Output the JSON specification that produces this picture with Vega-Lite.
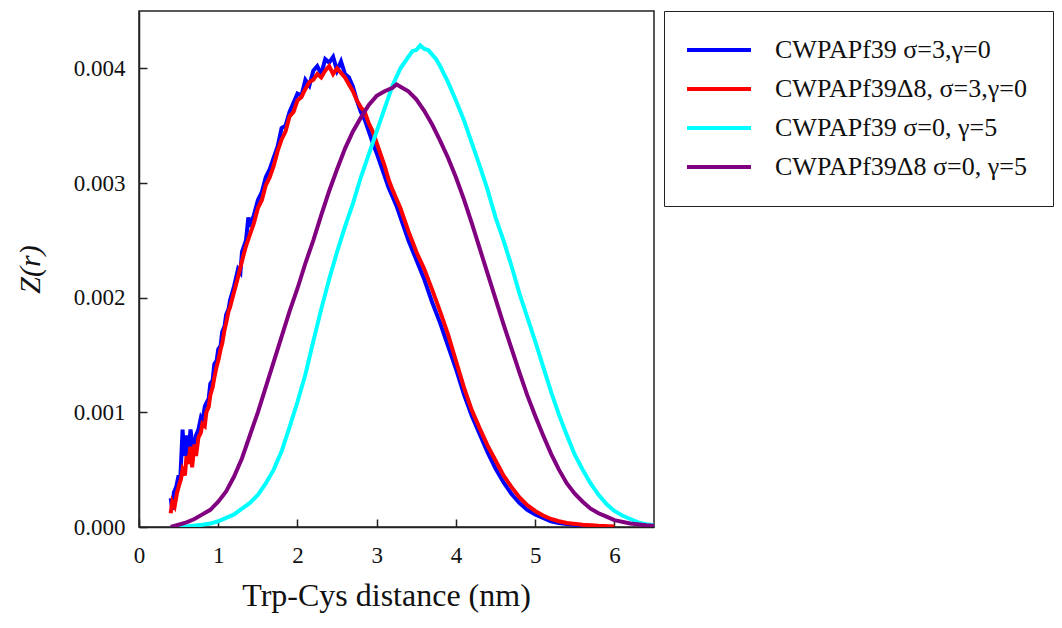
{
  "$schema": "https://vega.github.io/schema/vega-lite/v6.json",
  "autosize": "none",
  "padding": {"left": 139, "top": 11, "right": 408, "bottom": 101},
  "width": 515,
  "height": 516,
  "datasets": {
    "curves": [
      {"s": "CWPAPf39 σ=3,γ=0", "x": 0.40, "y": 0.00025},
      {"s": "CWPAPf39 σ=3,γ=0", "x": 0.42, "y": 0.00015},
      {"s": "CWPAPf39 σ=3,γ=0", "x": 0.44, "y": 0.00030},
      {"s": "CWPAPf39 σ=3,γ=0", "x": 0.47, "y": 0.00035},
      {"s": "CWPAPf39 σ=3,γ=0", "x": 0.50, "y": 0.00045},
      {"s": "CWPAPf39 σ=3,γ=0", "x": 0.52, "y": 0.00040},
      {"s": "CWPAPf39 σ=3,γ=0", "x": 0.55, "y": 0.00085},
      {"s": "CWPAPf39 σ=3,γ=0", "x": 0.57, "y": 0.00062},
      {"s": "CWPAPf39 σ=3,γ=0", "x": 0.60, "y": 0.00080},
      {"s": "CWPAPf39 σ=3,γ=0", "x": 0.62, "y": 0.00060},
      {"s": "CWPAPf39 σ=3,γ=0", "x": 0.65, "y": 0.00085},
      {"s": "CWPAPf39 σ=3,γ=0", "x": 0.68, "y": 0.00070},
      {"s": "CWPAPf39 σ=3,γ=0", "x": 0.70, "y": 0.00068},
      {"s": "CWPAPf39 σ=3,γ=0", "x": 0.72, "y": 0.00080},
      {"s": "CWPAPf39 σ=3,γ=0", "x": 0.75, "y": 0.00085},
      {"s": "CWPAPf39 σ=3,γ=0", "x": 0.78, "y": 0.00095},
      {"s": "CWPAPf39 σ=3,γ=0", "x": 0.80, "y": 0.00092},
      {"s": "CWPAPf39 σ=3,γ=0", "x": 0.83, "y": 0.00105},
      {"s": "CWPAPf39 σ=3,γ=0", "x": 0.85, "y": 0.00108},
      {"s": "CWPAPf39 σ=3,γ=0", "x": 0.88, "y": 0.00112},
      {"s": "CWPAPf39 σ=3,γ=0", "x": 0.90, "y": 0.00125},
      {"s": "CWPAPf39 σ=3,γ=0", "x": 0.93, "y": 0.00128},
      {"s": "CWPAPf39 σ=3,γ=0", "x": 0.95, "y": 0.00142},
      {"s": "CWPAPf39 σ=3,γ=0", "x": 0.98, "y": 0.00145},
      {"s": "CWPAPf39 σ=3,γ=0", "x": 1.00, "y": 0.00155},
      {"s": "CWPAPf39 σ=3,γ=0", "x": 1.03, "y": 0.00158},
      {"s": "CWPAPf39 σ=3,γ=0", "x": 1.05, "y": 0.00170},
      {"s": "CWPAPf39 σ=3,γ=0", "x": 1.08, "y": 0.00175},
      {"s": "CWPAPf39 σ=3,γ=0", "x": 1.10, "y": 0.00185},
      {"s": "CWPAPf39 σ=3,γ=0", "x": 1.13, "y": 0.00190},
      {"s": "CWPAPf39 σ=3,γ=0", "x": 1.15, "y": 0.00198},
      {"s": "CWPAPf39 σ=3,γ=0", "x": 1.18, "y": 0.00205},
      {"s": "CWPAPf39 σ=3,γ=0", "x": 1.20, "y": 0.00210},
      {"s": "CWPAPf39 σ=3,γ=0", "x": 1.25, "y": 0.00225},
      {"s": "CWPAPf39 σ=3,γ=0", "x": 1.28, "y": 0.00222},
      {"s": "CWPAPf39 σ=3,γ=0", "x": 1.30, "y": 0.00240},
      {"s": "CWPAPf39 σ=3,γ=0", "x": 1.35, "y": 0.00250},
      {"s": "CWPAPf39 σ=3,γ=0", "x": 1.38, "y": 0.00270},
      {"s": "CWPAPf39 σ=3,γ=0", "x": 1.40, "y": 0.00262},
      {"s": "CWPAPf39 σ=3,γ=0", "x": 1.45, "y": 0.00272},
      {"s": "CWPAPf39 σ=3,γ=0", "x": 1.50, "y": 0.00285},
      {"s": "CWPAPf39 σ=3,γ=0", "x": 1.55, "y": 0.00292},
      {"s": "CWPAPf39 σ=3,γ=0", "x": 1.60, "y": 0.00305},
      {"s": "CWPAPf39 σ=3,γ=0", "x": 1.65, "y": 0.00312},
      {"s": "CWPAPf39 σ=3,γ=0", "x": 1.70, "y": 0.00322},
      {"s": "CWPAPf39 σ=3,γ=0", "x": 1.75, "y": 0.00332},
      {"s": "CWPAPf39 σ=3,γ=0", "x": 1.80, "y": 0.00348},
      {"s": "CWPAPf39 σ=3,γ=0", "x": 1.85, "y": 0.00350},
      {"s": "CWPAPf39 σ=3,γ=0", "x": 1.90, "y": 0.00362},
      {"s": "CWPAPf39 σ=3,γ=0", "x": 1.95, "y": 0.00370},
      {"s": "CWPAPf39 σ=3,γ=0", "x": 2.00, "y": 0.00378},
      {"s": "CWPAPf39 σ=3,γ=0", "x": 2.05, "y": 0.00376},
      {"s": "CWPAPf39 σ=3,γ=0", "x": 2.10, "y": 0.00390},
      {"s": "CWPAPf39 σ=3,γ=0", "x": 2.15, "y": 0.00385},
      {"s": "CWPAPf39 σ=3,γ=0", "x": 2.20, "y": 0.00398},
      {"s": "CWPAPf39 σ=3,γ=0", "x": 2.25, "y": 0.00402},
      {"s": "CWPAPf39 σ=3,γ=0", "x": 2.30, "y": 0.00395},
      {"s": "CWPAPf39 σ=3,γ=0", "x": 2.35, "y": 0.00408},
      {"s": "CWPAPf39 σ=3,γ=0", "x": 2.40, "y": 0.00405},
      {"s": "CWPAPf39 σ=3,γ=0", "x": 2.45, "y": 0.00410},
      {"s": "CWPAPf39 σ=3,γ=0", "x": 2.50, "y": 0.00398},
      {"s": "CWPAPf39 σ=3,γ=0", "x": 2.55, "y": 0.00406},
      {"s": "CWPAPf39 σ=3,γ=0", "x": 2.60, "y": 0.00395},
      {"s": "CWPAPf39 σ=3,γ=0", "x": 2.65, "y": 0.00392},
      {"s": "CWPAPf39 σ=3,γ=0", "x": 2.70, "y": 0.00384},
      {"s": "CWPAPf39 σ=3,γ=0", "x": 2.75, "y": 0.00372},
      {"s": "CWPAPf39 σ=3,γ=0", "x": 2.80, "y": 0.00362},
      {"s": "CWPAPf39 σ=3,γ=0", "x": 2.85, "y": 0.00355},
      {"s": "CWPAPf39 σ=3,γ=0", "x": 2.90, "y": 0.00345},
      {"s": "CWPAPf39 σ=3,γ=0", "x": 2.95, "y": 0.00335},
      {"s": "CWPAPf39 σ=3,γ=0", "x": 3.00, "y": 0.00326},
      {"s": "CWPAPf39 σ=3,γ=0", "x": 3.05, "y": 0.00316},
      {"s": "CWPAPf39 σ=3,γ=0", "x": 3.10, "y": 0.00306},
      {"s": "CWPAPf39 σ=3,γ=0", "x": 3.15, "y": 0.00296},
      {"s": "CWPAPf39 σ=3,γ=0", "x": 3.20, "y": 0.00288},
      {"s": "CWPAPf39 σ=3,γ=0", "x": 3.25, "y": 0.00280},
      {"s": "CWPAPf39 σ=3,γ=0", "x": 3.30, "y": 0.00270},
      {"s": "CWPAPf39 σ=3,γ=0", "x": 3.40, "y": 0.00250},
      {"s": "CWPAPf39 σ=3,γ=0", "x": 3.50, "y": 0.00233},
      {"s": "CWPAPf39 σ=3,γ=0", "x": 3.60, "y": 0.00216},
      {"s": "CWPAPf39 σ=3,γ=0", "x": 3.70, "y": 0.00196},
      {"s": "CWPAPf39 σ=3,γ=0", "x": 3.80, "y": 0.00178},
      {"s": "CWPAPf39 σ=3,γ=0", "x": 3.90, "y": 0.00158},
      {"s": "CWPAPf39 σ=3,γ=0", "x": 4.00, "y": 0.00138},
      {"s": "CWPAPf39 σ=3,γ=0", "x": 4.10, "y": 0.00116},
      {"s": "CWPAPf39 σ=3,γ=0", "x": 4.20, "y": 0.00097},
      {"s": "CWPAPf39 σ=3,γ=0", "x": 4.30, "y": 0.00081},
      {"s": "CWPAPf39 σ=3,γ=0", "x": 4.40, "y": 0.00065},
      {"s": "CWPAPf39 σ=3,γ=0", "x": 4.50, "y": 0.00051},
      {"s": "CWPAPf39 σ=3,γ=0", "x": 4.60, "y": 0.00039},
      {"s": "CWPAPf39 σ=3,γ=0", "x": 4.70, "y": 0.00029},
      {"s": "CWPAPf39 σ=3,γ=0", "x": 4.80, "y": 0.00021},
      {"s": "CWPAPf39 σ=3,γ=0", "x": 4.90, "y": 0.00015},
      {"s": "CWPAPf39 σ=3,γ=0", "x": 5.00, "y": 0.00011},
      {"s": "CWPAPf39 σ=3,γ=0", "x": 5.10, "y": 0.00008},
      {"s": "CWPAPf39 σ=3,γ=0", "x": 5.20, "y": 0.00005},
      {"s": "CWPAPf39 σ=3,γ=0", "x": 5.30, "y": 0.000035},
      {"s": "CWPAPf39 σ=3,γ=0", "x": 5.40, "y": 0.000025},
      {"s": "CWPAPf39 σ=3,γ=0", "x": 5.60, "y": 0.000012},
      {"s": "CWPAPf39 σ=3,γ=0", "x": 5.80, "y": 0.000005},

      {"s": "CWPAPf39Δ8, σ=3,γ=0", "x": 0.40, "y": 0.00012},
      {"s": "CWPAPf39Δ8, σ=3,γ=0", "x": 0.42, "y": 0.00022},
      {"s": "CWPAPf39Δ8, σ=3,γ=0", "x": 0.45, "y": 0.00018},
      {"s": "CWPAPf39Δ8, σ=3,γ=0", "x": 0.48, "y": 0.00030},
      {"s": "CWPAPf39Δ8, σ=3,γ=0", "x": 0.50, "y": 0.00035},
      {"s": "CWPAPf39Δ8, σ=3,γ=0", "x": 0.53, "y": 0.00042},
      {"s": "CWPAPf39Δ8, σ=3,γ=0", "x": 0.55, "y": 0.00050},
      {"s": "CWPAPf39Δ8, σ=3,γ=0", "x": 0.58, "y": 0.00045},
      {"s": "CWPAPf39Δ8, σ=3,γ=0", "x": 0.60, "y": 0.00062},
      {"s": "CWPAPf39Δ8, σ=3,γ=0", "x": 0.62, "y": 0.00055},
      {"s": "CWPAPf39Δ8, σ=3,γ=0", "x": 0.65, "y": 0.00070},
      {"s": "CWPAPf39Δ8, σ=3,γ=0", "x": 0.67, "y": 0.00052},
      {"s": "CWPAPf39Δ8, σ=3,γ=0", "x": 0.70, "y": 0.00072},
      {"s": "CWPAPf39Δ8, σ=3,γ=0", "x": 0.72, "y": 0.00062},
      {"s": "CWPAPf39Δ8, σ=3,γ=0", "x": 0.75, "y": 0.00078},
      {"s": "CWPAPf39Δ8, σ=3,γ=0", "x": 0.78, "y": 0.00082},
      {"s": "CWPAPf39Δ8, σ=3,γ=0", "x": 0.80, "y": 0.00090},
      {"s": "CWPAPf39Δ8, σ=3,γ=0", "x": 0.83, "y": 0.00088},
      {"s": "CWPAPf39Δ8, σ=3,γ=0", "x": 0.85, "y": 0.00100},
      {"s": "CWPAPf39Δ8, σ=3,γ=0", "x": 0.88, "y": 0.00105},
      {"s": "CWPAPf39Δ8, σ=3,γ=0", "x": 0.90, "y": 0.00115},
      {"s": "CWPAPf39Δ8, σ=3,γ=0", "x": 0.93, "y": 0.00122},
      {"s": "CWPAPf39Δ8, σ=3,γ=0", "x": 0.95, "y": 0.00130},
      {"s": "CWPAPf39Δ8, σ=3,γ=0", "x": 0.98, "y": 0.00140},
      {"s": "CWPAPf39Δ8, σ=3,γ=0", "x": 1.00, "y": 0.00145},
      {"s": "CWPAPf39Δ8, σ=3,γ=0", "x": 1.03, "y": 0.00155},
      {"s": "CWPAPf39Δ8, σ=3,γ=0", "x": 1.05, "y": 0.00160},
      {"s": "CWPAPf39Δ8, σ=3,γ=0", "x": 1.08, "y": 0.00172},
      {"s": "CWPAPf39Δ8, σ=3,γ=0", "x": 1.10, "y": 0.00178},
      {"s": "CWPAPf39Δ8, σ=3,γ=0", "x": 1.13, "y": 0.00188},
      {"s": "CWPAPf39Δ8, σ=3,γ=0", "x": 1.15, "y": 0.00192},
      {"s": "CWPAPf39Δ8, σ=3,γ=0", "x": 1.18, "y": 0.00200},
      {"s": "CWPAPf39Δ8, σ=3,γ=0", "x": 1.20, "y": 0.00205},
      {"s": "CWPAPf39Δ8, σ=3,γ=0", "x": 1.25, "y": 0.00218},
      {"s": "CWPAPf39Δ8, σ=3,γ=0", "x": 1.30, "y": 0.00232},
      {"s": "CWPAPf39Δ8, σ=3,γ=0", "x": 1.35, "y": 0.00245},
      {"s": "CWPAPf39Δ8, σ=3,γ=0", "x": 1.40, "y": 0.00255},
      {"s": "CWPAPf39Δ8, σ=3,γ=0", "x": 1.45, "y": 0.00265},
      {"s": "CWPAPf39Δ8, σ=3,γ=0", "x": 1.50, "y": 0.00278},
      {"s": "CWPAPf39Δ8, σ=3,γ=0", "x": 1.55, "y": 0.00285},
      {"s": "CWPAPf39Δ8, σ=3,γ=0", "x": 1.60, "y": 0.00298},
      {"s": "CWPAPf39Δ8, σ=3,γ=0", "x": 1.65, "y": 0.00305},
      {"s": "CWPAPf39Δ8, σ=3,γ=0", "x": 1.70, "y": 0.00315},
      {"s": "CWPAPf39Δ8, σ=3,γ=0", "x": 1.75, "y": 0.00328},
      {"s": "CWPAPf39Δ8, σ=3,γ=0", "x": 1.80, "y": 0.00338},
      {"s": "CWPAPf39Δ8, σ=3,γ=0", "x": 1.85, "y": 0.00345},
      {"s": "CWPAPf39Δ8, σ=3,γ=0", "x": 1.90, "y": 0.00358},
      {"s": "CWPAPf39Δ8, σ=3,γ=0", "x": 1.95, "y": 0.00362},
      {"s": "CWPAPf39Δ8, σ=3,γ=0", "x": 2.00, "y": 0.00372},
      {"s": "CWPAPf39Δ8, σ=3,γ=0", "x": 2.05, "y": 0.00375},
      {"s": "CWPAPf39Δ8, σ=3,γ=0", "x": 2.10, "y": 0.00382},
      {"s": "CWPAPf39Δ8, σ=3,γ=0", "x": 2.15, "y": 0.00388},
      {"s": "CWPAPf39Δ8, σ=3,γ=0", "x": 2.20, "y": 0.00390},
      {"s": "CWPAPf39Δ8, σ=3,γ=0", "x": 2.25, "y": 0.00395},
      {"s": "CWPAPf39Δ8, σ=3,γ=0", "x": 2.30, "y": 0.00392},
      {"s": "CWPAPf39Δ8, σ=3,γ=0", "x": 2.35, "y": 0.00398},
      {"s": "CWPAPf39Δ8, σ=3,γ=0", "x": 2.40, "y": 0.00402},
      {"s": "CWPAPf39Δ8, σ=3,γ=0", "x": 2.45, "y": 0.00395},
      {"s": "CWPAPf39Δ8, σ=3,γ=0", "x": 2.50, "y": 0.00400},
      {"s": "CWPAPf39Δ8, σ=3,γ=0", "x": 2.55, "y": 0.00396},
      {"s": "CWPAPf39Δ8, σ=3,γ=0", "x": 2.60, "y": 0.00392},
      {"s": "CWPAPf39Δ8, σ=3,γ=0", "x": 2.65, "y": 0.00386},
      {"s": "CWPAPf39Δ8, σ=3,γ=0", "x": 2.70, "y": 0.00380},
      {"s": "CWPAPf39Δ8, σ=3,γ=0", "x": 2.75, "y": 0.00372},
      {"s": "CWPAPf39Δ8, σ=3,γ=0", "x": 2.80, "y": 0.00366},
      {"s": "CWPAPf39Δ8, σ=3,γ=0", "x": 2.85, "y": 0.00362},
      {"s": "CWPAPf39Δ8, σ=3,γ=0", "x": 2.90, "y": 0.00352},
      {"s": "CWPAPf39Δ8, σ=3,γ=0", "x": 2.95, "y": 0.00345},
      {"s": "CWPAPf39Δ8, σ=3,γ=0", "x": 3.00, "y": 0.00335},
      {"s": "CWPAPf39Δ8, σ=3,γ=0", "x": 3.05, "y": 0.00325},
      {"s": "CWPAPf39Δ8, σ=3,γ=0", "x": 3.10, "y": 0.00315},
      {"s": "CWPAPf39Δ8, σ=3,γ=0", "x": 3.15, "y": 0.00303},
      {"s": "CWPAPf39Δ8, σ=3,γ=0", "x": 3.20, "y": 0.00294},
      {"s": "CWPAPf39Δ8, σ=3,γ=0", "x": 3.25, "y": 0.00286},
      {"s": "CWPAPf39Δ8, σ=3,γ=0", "x": 3.30, "y": 0.00278},
      {"s": "CWPAPf39Δ8, σ=3,γ=0", "x": 3.40, "y": 0.00258},
      {"s": "CWPAPf39Δ8, σ=3,γ=0", "x": 3.50, "y": 0.00240},
      {"s": "CWPAPf39Δ8, σ=3,γ=0", "x": 3.60, "y": 0.00225},
      {"s": "CWPAPf39Δ8, σ=3,γ=0", "x": 3.70, "y": 0.00207},
      {"s": "CWPAPf39Δ8, σ=3,γ=0", "x": 3.80, "y": 0.00188},
      {"s": "CWPAPf39Δ8, σ=3,γ=0", "x": 3.90, "y": 0.00168},
      {"s": "CWPAPf39Δ8, σ=3,γ=0", "x": 4.00, "y": 0.00145},
      {"s": "CWPAPf39Δ8, σ=3,γ=0", "x": 4.10, "y": 0.00122},
      {"s": "CWPAPf39Δ8, σ=3,γ=0", "x": 4.20, "y": 0.00102},
      {"s": "CWPAPf39Δ8, σ=3,γ=0", "x": 4.30, "y": 0.00086},
      {"s": "CWPAPf39Δ8, σ=3,γ=0", "x": 4.40, "y": 0.00071},
      {"s": "CWPAPf39Δ8, σ=3,γ=0", "x": 4.50, "y": 0.00058},
      {"s": "CWPAPf39Δ8, σ=3,γ=0", "x": 4.60, "y": 0.00045},
      {"s": "CWPAPf39Δ8, σ=3,γ=0", "x": 4.70, "y": 0.00035},
      {"s": "CWPAPf39Δ8, σ=3,γ=0", "x": 4.80, "y": 0.00026},
      {"s": "CWPAPf39Δ8, σ=3,γ=0", "x": 4.90, "y": 0.00019},
      {"s": "CWPAPf39Δ8, σ=3,γ=0", "x": 5.00, "y": 0.00014},
      {"s": "CWPAPf39Δ8, σ=3,γ=0", "x": 5.10, "y": 0.00010},
      {"s": "CWPAPf39Δ8, σ=3,γ=0", "x": 5.20, "y": 0.00007},
      {"s": "CWPAPf39Δ8, σ=3,γ=0", "x": 5.30, "y": 0.00005},
      {"s": "CWPAPf39Δ8, σ=3,γ=0", "x": 5.40, "y": 0.000035},
      {"s": "CWPAPf39Δ8, σ=3,γ=0", "x": 5.60, "y": 0.00002},
      {"s": "CWPAPf39Δ8, σ=3,γ=0", "x": 5.80, "y": 0.00001},
      {"s": "CWPAPf39Δ8, σ=3,γ=0", "x": 6.00, "y": 0.000005},

      {"s": "CWPAPf39 σ=0, γ=5", "x": 0.40, "y": 0.0},
      {"s": "CWPAPf39 σ=0, γ=5", "x": 0.60, "y": 0.000005},
      {"s": "CWPAPf39 σ=0, γ=5", "x": 0.80, "y": 0.00002},
      {"s": "CWPAPf39 σ=0, γ=5", "x": 0.90, "y": 0.00003},
      {"s": "CWPAPf39 σ=0, γ=5", "x": 1.00, "y": 0.00005},
      {"s": "CWPAPf39 σ=0, γ=5", "x": 1.10, "y": 0.00008},
      {"s": "CWPAPf39 σ=0, γ=5", "x": 1.20, "y": 0.00011},
      {"s": "CWPAPf39 σ=0, γ=5", "x": 1.30, "y": 0.00016},
      {"s": "CWPAPf39 σ=0, γ=5", "x": 1.40, "y": 0.00021},
      {"s": "CWPAPf39 σ=0, γ=5", "x": 1.50, "y": 0.00028},
      {"s": "CWPAPf39 σ=0, γ=5", "x": 1.60, "y": 0.00038},
      {"s": "CWPAPf39 σ=0, γ=5", "x": 1.70, "y": 0.00050},
      {"s": "CWPAPf39 σ=0, γ=5", "x": 1.80, "y": 0.00066},
      {"s": "CWPAPf39 σ=0, γ=5", "x": 1.90, "y": 0.00087},
      {"s": "CWPAPf39 σ=0, γ=5", "x": 2.00, "y": 0.00109},
      {"s": "CWPAPf39 σ=0, γ=5", "x": 2.10, "y": 0.00133},
      {"s": "CWPAPf39 σ=0, γ=5", "x": 2.20, "y": 0.00162},
      {"s": "CWPAPf39 σ=0, γ=5", "x": 2.30, "y": 0.00190},
      {"s": "CWPAPf39 σ=0, γ=5", "x": 2.40, "y": 0.00216},
      {"s": "CWPAPf39 σ=0, γ=5", "x": 2.50, "y": 0.00240},
      {"s": "CWPAPf39 σ=0, γ=5", "x": 2.60, "y": 0.00262},
      {"s": "CWPAPf39 σ=0, γ=5", "x": 2.70, "y": 0.00282},
      {"s": "CWPAPf39 σ=0, γ=5", "x": 2.80, "y": 0.00305},
      {"s": "CWPAPf39 σ=0, γ=5", "x": 2.90, "y": 0.00325},
      {"s": "CWPAPf39 σ=0, γ=5", "x": 3.00, "y": 0.00345},
      {"s": "CWPAPf39 σ=0, γ=5", "x": 3.10, "y": 0.00365},
      {"s": "CWPAPf39 σ=0, γ=5", "x": 3.20, "y": 0.00385},
      {"s": "CWPAPf39 σ=0, γ=5", "x": 3.30, "y": 0.00400},
      {"s": "CWPAPf39 σ=0, γ=5", "x": 3.40, "y": 0.00410},
      {"s": "CWPAPf39 σ=0, γ=5", "x": 3.45, "y": 0.00415},
      {"s": "CWPAPf39 σ=0, γ=5", "x": 3.50, "y": 0.00416},
      {"s": "CWPAPf39 σ=0, γ=5", "x": 3.55, "y": 0.00420},
      {"s": "CWPAPf39 σ=0, γ=5", "x": 3.60, "y": 0.00417},
      {"s": "CWPAPf39 σ=0, γ=5", "x": 3.65, "y": 0.00416},
      {"s": "CWPAPf39 σ=0, γ=5", "x": 3.70, "y": 0.00412},
      {"s": "CWPAPf39 σ=0, γ=5", "x": 3.75, "y": 0.00408},
      {"s": "CWPAPf39 σ=0, γ=5", "x": 3.80, "y": 0.00402},
      {"s": "CWPAPf39 σ=0, γ=5", "x": 3.90, "y": 0.00388},
      {"s": "CWPAPf39 σ=0, γ=5", "x": 4.00, "y": 0.00372},
      {"s": "CWPAPf39 σ=0, γ=5", "x": 4.10, "y": 0.00355},
      {"s": "CWPAPf39 σ=0, γ=5", "x": 4.20, "y": 0.00335},
      {"s": "CWPAPf39 σ=0, γ=5", "x": 4.30, "y": 0.00315},
      {"s": "CWPAPf39 σ=0, γ=5", "x": 4.40, "y": 0.00294},
      {"s": "CWPAPf39 σ=0, γ=5", "x": 4.50, "y": 0.00270},
      {"s": "CWPAPf39 σ=0, γ=5", "x": 4.60, "y": 0.00250},
      {"s": "CWPAPf39 σ=0, γ=5", "x": 4.70, "y": 0.00228},
      {"s": "CWPAPf39 σ=0, γ=5", "x": 4.80, "y": 0.00204},
      {"s": "CWPAPf39 σ=0, γ=5", "x": 4.90, "y": 0.00183},
      {"s": "CWPAPf39 σ=0, γ=5", "x": 5.00, "y": 0.00162},
      {"s": "CWPAPf39 σ=0, γ=5", "x": 5.10, "y": 0.00140},
      {"s": "CWPAPf39 σ=0, γ=5", "x": 5.20, "y": 0.00118},
      {"s": "CWPAPf39 σ=0, γ=5", "x": 5.30, "y": 0.00098},
      {"s": "CWPAPf39 σ=0, γ=5", "x": 5.40, "y": 0.00080},
      {"s": "CWPAPf39 σ=0, γ=5", "x": 5.50, "y": 0.00063},
      {"s": "CWPAPf39 σ=0, γ=5", "x": 5.60, "y": 0.00050},
      {"s": "CWPAPf39 σ=0, γ=5", "x": 5.70, "y": 0.00038},
      {"s": "CWPAPf39 σ=0, γ=5", "x": 5.80, "y": 0.00028},
      {"s": "CWPAPf39 σ=0, γ=5", "x": 5.90, "y": 0.00020},
      {"s": "CWPAPf39 σ=0, γ=5", "x": 6.00, "y": 0.00014},
      {"s": "CWPAPf39 σ=0, γ=5", "x": 6.10, "y": 0.00010},
      {"s": "CWPAPf39 σ=0, γ=5", "x": 6.20, "y": 0.00007},
      {"s": "CWPAPf39 σ=0, γ=5", "x": 6.30, "y": 0.00004},
      {"s": "CWPAPf39 σ=0, γ=5", "x": 6.40, "y": 0.000025},
      {"s": "CWPAPf39 σ=0, γ=5", "x": 6.50, "y": 0.000015},

      {"s": "CWPAPf39Δ8 σ=0, γ=5", "x": 0.40, "y": 0.0},
      {"s": "CWPAPf39Δ8 σ=0, γ=5", "x": 0.50, "y": 0.00002},
      {"s": "CWPAPf39Δ8 σ=0, γ=5", "x": 0.60, "y": 0.00004},
      {"s": "CWPAPf39Δ8 σ=0, γ=5", "x": 0.70, "y": 0.00007},
      {"s": "CWPAPf39Δ8 σ=0, γ=5", "x": 0.80, "y": 0.00011},
      {"s": "CWPAPf39Δ8 σ=0, γ=5", "x": 0.90, "y": 0.00015},
      {"s": "CWPAPf39Δ8 σ=0, γ=5", "x": 1.00, "y": 0.00022},
      {"s": "CWPAPf39Δ8 σ=0, γ=5", "x": 1.10, "y": 0.00031},
      {"s": "CWPAPf39Δ8 σ=0, γ=5", "x": 1.20, "y": 0.00044},
      {"s": "CWPAPf39Δ8 σ=0, γ=5", "x": 1.30, "y": 0.00060},
      {"s": "CWPAPf39Δ8 σ=0, γ=5", "x": 1.40, "y": 0.00080},
      {"s": "CWPAPf39Δ8 σ=0, γ=5", "x": 1.50, "y": 0.00100},
      {"s": "CWPAPf39Δ8 σ=0, γ=5", "x": 1.60, "y": 0.00122},
      {"s": "CWPAPf39Δ8 σ=0, γ=5", "x": 1.70, "y": 0.00144},
      {"s": "CWPAPf39Δ8 σ=0, γ=5", "x": 1.80, "y": 0.00166},
      {"s": "CWPAPf39Δ8 σ=0, γ=5", "x": 1.90, "y": 0.00188},
      {"s": "CWPAPf39Δ8 σ=0, γ=5", "x": 2.00, "y": 0.00208},
      {"s": "CWPAPf39Δ8 σ=0, γ=5", "x": 2.10, "y": 0.00230},
      {"s": "CWPAPf39Δ8 σ=0, γ=5", "x": 2.20, "y": 0.00250},
      {"s": "CWPAPf39Δ8 σ=0, γ=5", "x": 2.30, "y": 0.00272},
      {"s": "CWPAPf39Δ8 σ=0, γ=5", "x": 2.40, "y": 0.00293},
      {"s": "CWPAPf39Δ8 σ=0, γ=5", "x": 2.50, "y": 0.00312},
      {"s": "CWPAPf39Δ8 σ=0, γ=5", "x": 2.60, "y": 0.00330},
      {"s": "CWPAPf39Δ8 σ=0, γ=5", "x": 2.70, "y": 0.00345},
      {"s": "CWPAPf39Δ8 σ=0, γ=5", "x": 2.80, "y": 0.00357},
      {"s": "CWPAPf39Δ8 σ=0, γ=5", "x": 2.90, "y": 0.00368},
      {"s": "CWPAPf39Δ8 σ=0, γ=5", "x": 3.00, "y": 0.00376},
      {"s": "CWPAPf39Δ8 σ=0, γ=5", "x": 3.10, "y": 0.00380},
      {"s": "CWPAPf39Δ8 σ=0, γ=5", "x": 3.20, "y": 0.00383},
      {"s": "CWPAPf39Δ8 σ=0, γ=5", "x": 3.25, "y": 0.00386},
      {"s": "CWPAPf39Δ8 σ=0, γ=5", "x": 3.30, "y": 0.00384},
      {"s": "CWPAPf39Δ8 σ=0, γ=5", "x": 3.40, "y": 0.00380},
      {"s": "CWPAPf39Δ8 σ=0, γ=5", "x": 3.50, "y": 0.00373},
      {"s": "CWPAPf39Δ8 σ=0, γ=5", "x": 3.60, "y": 0.00363},
      {"s": "CWPAPf39Δ8 σ=0, γ=5", "x": 3.70, "y": 0.00351},
      {"s": "CWPAPf39Δ8 σ=0, γ=5", "x": 3.80, "y": 0.00337},
      {"s": "CWPAPf39Δ8 σ=0, γ=5", "x": 3.90, "y": 0.00322},
      {"s": "CWPAPf39Δ8 σ=0, γ=5", "x": 4.00, "y": 0.00305},
      {"s": "CWPAPf39Δ8 σ=0, γ=5", "x": 4.10, "y": 0.00286},
      {"s": "CWPAPf39Δ8 σ=0, γ=5", "x": 4.20, "y": 0.00265},
      {"s": "CWPAPf39Δ8 σ=0, γ=5", "x": 4.30, "y": 0.00243},
      {"s": "CWPAPf39Δ8 σ=0, γ=5", "x": 4.40, "y": 0.00221},
      {"s": "CWPAPf39Δ8 σ=0, γ=5", "x": 4.50, "y": 0.00199},
      {"s": "CWPAPf39Δ8 σ=0, γ=5", "x": 4.60, "y": 0.00177},
      {"s": "CWPAPf39Δ8 σ=0, γ=5", "x": 4.70, "y": 0.00156},
      {"s": "CWPAPf39Δ8 σ=0, γ=5", "x": 4.80, "y": 0.00135},
      {"s": "CWPAPf39Δ8 σ=0, γ=5", "x": 4.90, "y": 0.00115},
      {"s": "CWPAPf39Δ8 σ=0, γ=5", "x": 5.00, "y": 0.00097},
      {"s": "CWPAPf39Δ8 σ=0, γ=5", "x": 5.10, "y": 0.00080},
      {"s": "CWPAPf39Δ8 σ=0, γ=5", "x": 5.20, "y": 0.00064},
      {"s": "CWPAPf39Δ8 σ=0, γ=5", "x": 5.30, "y": 0.00050},
      {"s": "CWPAPf39Δ8 σ=0, γ=5", "x": 5.40, "y": 0.00038},
      {"s": "CWPAPf39Δ8 σ=0, γ=5", "x": 5.50, "y": 0.00029},
      {"s": "CWPAPf39Δ8 σ=0, γ=5", "x": 5.60, "y": 0.00022},
      {"s": "CWPAPf39Δ8 σ=0, γ=5", "x": 5.70, "y": 0.00016},
      {"s": "CWPAPf39Δ8 σ=0, γ=5", "x": 5.80, "y": 0.00012},
      {"s": "CWPAPf39Δ8 σ=0, γ=5", "x": 5.90, "y": 0.00009},
      {"s": "CWPAPf39Δ8 σ=0, γ=5", "x": 6.00, "y": 0.00006},
      {"s": "CWPAPf39Δ8 σ=0, γ=5", "x": 6.20, "y": 0.00003},
      {"s": "CWPAPf39Δ8 σ=0, γ=5", "x": 6.40, "y": 0.000015},
      {"s": "CWPAPf39Δ8 σ=0, γ=5", "x": 6.50, "y": 0.00001}
    ]
  },
  "data": {"name": "curves"},
  "mark": {"type": "line", "strokeWidth": 4, "clip": true},
  "encoding": {
    "x": {
      "field": "x", "type": "quantitative",
      "scale": {"domain": [0, 6.5], "nice": false, "zero": false},
      "axis": {"values": [0, 1, 2, 3, 4, 5, 6], "title": "Trp-Cys distance (nm)", "format": "d", "labelFlush": false,
               "tickSize": -8, "labelPadding": 25, "titlePadding": 13, "titleFontSize": 32, "titleX": 247}
    },
    "y": {
      "field": "y", "type": "quantitative",
      "scale": {"domain": [0, 0.0045], "nice": false},
      "axis": {"values": [0, 0.001, 0.002, 0.003, 0.004], "format": ".3f", "title": "Z(r)", "labelFlush": false,
               "titleFontStyle": "italic", "titleFontSize": 30, "tickSize": -8, "labelPadding": 22, "titlePadding": 28}
    },
    "color": {
      "field": "s", "type": "nominal",
      "scale": {
        "domain": ["CWPAPf39 σ=3,γ=0", "CWPAPf39Δ8, σ=3,γ=0", "CWPAPf39 σ=0, γ=5", "CWPAPf39Δ8 σ=0, γ=5"],
        "range": ["#0000ff", "#ff0000", "#00ffff", "#800080"]
      },
      "legend": {
        "title": null, "orient": "none", "legendX": 525, "legendY": 0,
        "strokeColor": "#222222", "fillColor": "white", "padding": 26,
        "symbolType": "M-2,0H6", "symbolSize": 256, "symbolStrokeWidth": 4,
        "labelFontSize": 26, "labelOffset": 59, "rowPadding": 13, "labelLimit": 400
      }
    }
  },
  "config": {
    "font": "Liberation Serif",
    "view": {"stroke": "#222222", "strokeWidth": 1.5},
    "axis": {
      "grid": false, "domainColor": "#222222", "domainWidth": 1.5, "tickColor": "#222222", "tickWidth": 1.5,
      "labelFont": "Liberation Serif", "labelFontSize": 23, "labelColor": "#111111",
      "titleFont": "Liberation Serif", "titleFontSize": 24, "titleFontWeight": "normal", "titleColor": "#111111"
    },
    "legend": {"labelFont": "Liberation Serif", "labelColor": "#111111"}
  }
}
